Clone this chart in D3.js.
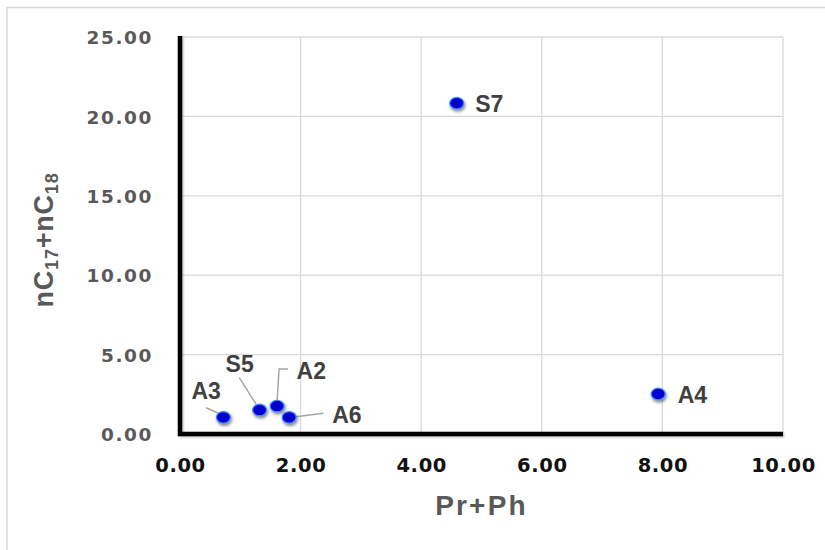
<!DOCTYPE html>
<html>
<head>
<meta charset="utf-8">
<script src="https://cdn.jsdelivr.net/npm/d3@7/dist/d3.min.js"></script>
<style>
  html, body { margin: 0; padding: 0; background: #fff; }
  svg { display: block; }
</style>
</head>
<body>
<svg id="chart" width="825" height="550"></svg>
<script>
// ---- data ----
const samples = ["A3", "S5", "A2", "A6", "S7", "A4"];
const prPh    = [0.72, 1.32, 1.61, 1.81, 4.59, 7.93];
const nC17nC18 = [1.05, 1.51, 1.76, 1.05, 20.83, 2.52];
const xTickValues = [0, 2, 4, 6, 8, 10];
const yTickValues = [0, 5, 10, 15, 20, 25];
const xTitle = "Pr+Ph";

(function () {
// ---- layout (label offsets in px, relative to the point) ----
const labelLayout = {
  A3: { dx: -32, dy: -18, leader: [[-17.3, -9.6], [-3.3, -3.3]] },
  S5: { dx: -34, dy: -38, leader: [[-20.3, -32.3], [-2, -3.3]] },
  A2: { dx: 19.5, dy: -27, leader: [[11, -37], [2, -37], [0, -4.3]] },
  A6: { dx: 43, dy: 5.5, leader: [[34.3, -4], [2.7, 0]] },
  S7: { dx: 18.5, dy: 8.5, leader: null },
  A4: { dx: 19.5, dy: 9.3, leader: null }
};

const svg = d3.select("#chart");
const W = 825, H = 550;
const mLeft = 180, mRight = 783, mTop = 37, mBottom = 434;

const x = d3.scaleLinear().domain([0, 10]).range([mLeft, mRight]);
const y = d3.scaleLinear().domain([0, 25]).range([mBottom, mTop]);

// filters
const defs = svg.append("defs");
const f = defs.append("filter").attr("id", "dotShadow")
  .attr("x", "-60%").attr("y", "-60%").attr("width", "220%").attr("height", "220%");
f.append("feDropShadow").attr("dx", 1).attr("dy", 2).attr("stdDeviation", 1.8)
  .attr("flood-color", "#000").attr("flood-opacity", 0.5);
const f2 = defs.append("filter").attr("id", "axShadow")
  .attr("x", "-20%").attr("y", "-20%").attr("width", "140%").attr("height", "140%");
f2.append("feDropShadow").attr("dx", 1).attr("dy", 1).attr("stdDeviation", 0.8)
  .attr("flood-color", "#000").attr("flood-opacity", 0.3);

// outer border (chart area frame)
svg.append("rect").attr("x", 7).attr("y", 7.5).attr("width", W + 20).attr("height", H + 20)
  .attr("fill", "none").attr("stroke", "#d9d9d9").attr("stroke-width", 1.5);

// gridlines
const grid = svg.append("g");
grid.selectAll("line.v").data(xTickValues.filter(d => d > 0)).join("line").attr("class", "v")
  .attr("x1", d => x(d)).attr("x2", d => x(d))
  .attr("y1", y(0)).attr("y2", y(25))
  .attr("stroke", "#d9d9d9").attr("stroke-width", 1.3);
grid.selectAll("line.h").data(yTickValues.filter(d => d > 0)).join("line").attr("class", "h")
  .attr("y1", d => y(d)).attr("y2", d => y(d))
  .attr("x1", x(0)).attr("x2", x(10))
  .attr("stroke", "#d9d9d9").attr("stroke-width", 1.3);

// axes via d3 axis generators
const xAxis = d3.axisBottom(x).tickValues(xTickValues).tickFormat(d3.format(".2f")).tickSize(0).tickPadding(24);
const yAxis = d3.axisLeft(y).tickValues(yTickValues).tickFormat(d3.format(".2f")).tickSize(0).tickPadding(27);

const gx = svg.append("g").attr("transform", `translate(0,${y(0)})`).call(xAxis);
gx.select(".domain").remove();
gx.selectAll("text")
  .attr("font-family", "'DejaVu Sans', Verdana, sans-serif")
  .attr("font-weight", "bold").attr("font-size", 19.5)
  .attr("fill", "#111").attr("letter-spacing", 0.6);

const gy = svg.append("g").attr("transform", `translate(${x(0)},0)`).call(yAxis);
gy.select(".domain").remove();
gy.selectAll("text")
  .attr("font-family", "'DejaVu Sans', Verdana, sans-serif")
  .attr("font-weight", "bold").attr("font-size", 18.5)
  .attr("fill", "#595959").attr("letter-spacing", 1.6)
  .attr("dy", "0.36em");

// axis lines (thick black)
const axG = svg.append("g").attr("filter", "url(#axShadow)");
axG.append("line").attr("x1", x(0)).attr("x2", x(0)).attr("y1", y(25) - 1).attr("y2", y(0) + 2)
  .attr("stroke", "#000").attr("stroke-width", 4.5);
axG.append("line").attr("x1", x(0) - 2).attr("x2", x(10)).attr("y1", y(0)).attr("y2", y(0))
  .attr("stroke", "#000").attr("stroke-width", 4.5);

// leader lines
const pts = samples.map((s, i) => ({ s, px: x(prPh[i]), py: y(nC17nC18[i]) }));
svg.append("g").selectAll("polyline").data(pts.filter(p => labelLayout[p.s].leader)).join("polyline")
  .attr("points", p => labelLayout[p.s].leader.map(o => [p.px + o[0], p.py + o[1]].join(",")).join(" "))
  .attr("fill", "none").attr("stroke", "#a6a6a6").attr("stroke-width", 1.5);

// points
svg.append("g").selectAll("ellipse").data(pts).join("ellipse")
  .attr("cx", p => p.px).attr("cy", p => p.py)
  .attr("rx", 7).attr("ry", 5.8)
  .attr("fill", "#0000cc").attr("stroke", "#3f8cff").attr("stroke-width", 1.2)
  .attr("filter", "url(#dotShadow)");

// point labels
svg.append("g").selectAll("text").data(pts).join("text")
  .attr("x", p => p.px + labelLayout[p.s].dx)
  .attr("y", p => p.py + labelLayout[p.s].dy)
  .attr("font-family", "'Liberation Sans', Arial, sans-serif")
  .attr("font-weight", "bold").attr("font-size", 23)
  .attr("fill", "#404040")
  .text(p => p.s);

// x title
svg.append("text")
  .attr("x", (mLeft + mRight) / 2).attr("y", 515)
  .attr("text-anchor", "middle")
  .attr("font-family", "'Liberation Sans', Arial, sans-serif")
  .attr("font-weight", "bold").attr("font-size", 28)
  .attr("letter-spacing", 2.2)
  .attr("fill", "#595959")
  .text(xTitle);

// y title with subscripts
const yt = svg.append("text")
  .attr("transform", "translate(53,240) rotate(-90)")
  .attr("text-anchor", "middle")
  .attr("font-family", "'Liberation Sans', Arial, sans-serif")
  .attr("font-weight", "bold").attr("font-size", 27)
  .attr("letter-spacing", 0.8)
  .attr("fill", "#595959");
const parts = [["nC", false], ["17", true], ["+nC", false], ["18", true]];
parts.forEach(([t, sub], i) => {
  const ts = yt.append("tspan").text(t);
  if (sub) ts.attr("font-size", 18).attr("dy", 5);
  else if (i > 0) ts.attr("dy", -5);
});
})();
</script>
</body>
</html>
